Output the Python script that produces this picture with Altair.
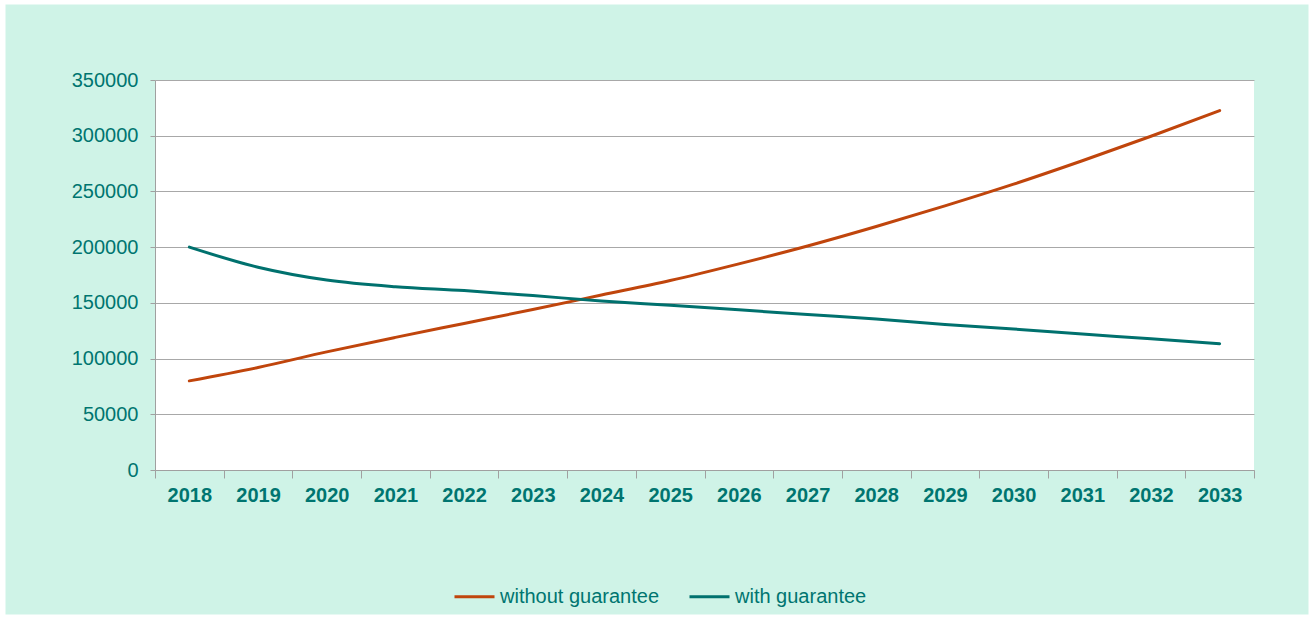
import altair as alt
import pandas as pd

years = [str(y) for y in range(2018, 2034)]
without_guarantee = [80000, 92000, 106000, 119000, 131500, 144000, 157000, 170000,
                     185000, 201000, 218500, 237000, 256500, 277500, 299500, 322500]
with_guarantee = [200000, 182000, 170500, 164500, 161000, 156500, 151700, 147800,
                  143800, 139500, 135500, 130500, 126500, 122000, 117800, 113300]
series_names = ["without guarantee", "with guarantee"]
series_colors = ["#C0450C", "#00716E"]

rows = []
for i, y in enumerate(years):
    rows.append({"year": y, "series": series_names[0], "value": without_guarantee[i]})
    rows.append({"year": y, "series": series_names[1], "value": with_guarantee[i]})
df = pd.DataFrame(rows)

TEXT = "#007570"
FONT = "Liberation Sans"
W, H = 1099, 390

lines = alt.Chart(df).mark_line(strokeWidth=3, interpolate="monotone", strokeCap="round").encode(
    x=alt.X("year:O", sort=years, scale=alt.Scale(paddingInner=0, paddingOuter=0),
            axis=alt.Axis(title=None, labelAngle=0, labelFont=FONT, labelFontSize=20,
                          labelFontWeight="bold", labelColor=TEXT, tickBand="extent",
                          ticks=True, tickSize=8, tickColor="#A0A0A0", domainColor="#A0A0A0",
                          labelPadding=7, grid=False)),
    y=alt.Y("value:Q", scale=alt.Scale(domain=[0, 350000], nice=False),
            axis=alt.Axis(title=None, values=list(range(0, 350001, 50000)), format="d",
                          labelFont=FONT, labelFontSize=20, labelColor=TEXT,
                          tickSize=5, tickColor="#A0A0A0", domainColor="#A0A0A0",
                          labelPadding=12, grid=True, gridColor="#A8A8A8", gridWidth=1)),
    color=alt.Color("series:N", sort=series_names,
                    scale=alt.Scale(domain=series_names, range=series_colors),
                    legend=alt.Legend(title=None, orient="none", legendX=298, legendY=495,
                                      direction="horizontal", symbolType="stroke",
                                      symbolSize=1600, symbolStrokeWidth=3,
                                      labelFont=FONT, labelFontSize=20, labelColor=TEXT,
                                      labelOffset=4, columnPadding=23)),
)

border = alt.Chart(pd.DataFrame({"a": [0]})).mark_rect(
    fill=None, stroke="white", strokeWidth=9, clip=False
).encode(
    x=alt.value(-154), x2=alt.value(1312 - 154), y=alt.value(-80), y2=alt.value(619 - 80)
)

chart = alt.layer(lines, border).properties(
    width=W, height=H,
    padding={"left": 155, "top": 80, "right": 1312 - 155 - W, "bottom": 619 - 80 - H},
    autosize=alt.AutoSizeParams(type="none"),
    background="#CFF3E7",
).configure_view(fill="white", stroke=None)

chart.save("out.html", embed_options={"renderer": "svg", "actions": False})
